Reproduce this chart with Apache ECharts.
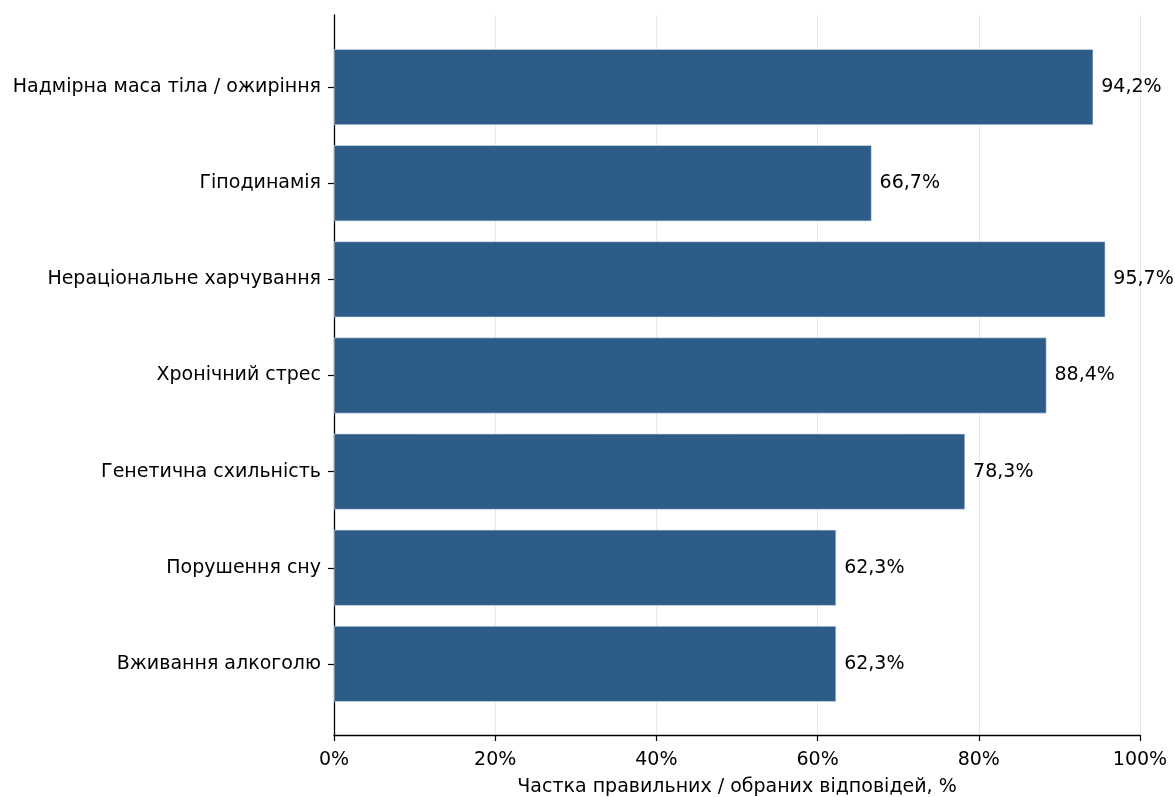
<!DOCTYPE html>
<html>
<head>
<meta charset="utf-8">
<script src="https://cdn.jsdelivr.net/npm/echarts@6/dist/echarts.min.js"></script>
<style>html,body{margin:0;padding:0;background:#fff}#c{width:1175px;height:797px}</style>
</head>
<body>
<div id="c"></div>
<script>
const categories = ["Надмірна маса тіла / ожиріння","Гіподинамія","Нераціональне харчування","Хронічний стрес","Генетична схильність","Порушення сну","Вживання алкоголю"];
const values = [94.2, 66.7, 95.7, 88.4, 78.3, 62.3, 62.3];
const xTicks = [0, 20, 40, 60, 80, 100];
const xTitle = "Частка правильних / обраних відповідей, %";

const font = "DejaVu Sans";
const fs = 19;
const chart = echarts.init(document.getElementById('c'), null, {renderer: 'canvas'});
chart.setOption({
  animation: false,
  backgroundColor: '#ffffff',
  textStyle: {fontFamily: font},
  grid: [
    {left: 334, right: 35, top: 15, bottom: 62, containLabel: false, outerBoundsMode: 'none'},
    {left: 334, right: 35, top: 39, bottom: 85, containLabel: false, outerBoundsMode: 'none'}
  ],
  xAxis: [
    {
      gridIndex: 0, type: 'value', min: xTicks[0], max: xTicks[xTicks.length-1], interval: 20,
      axisLine: {show: true, lineStyle: {color: '#000', width: 1.3}},
      axisTick: {show: true, length: 6, lineStyle: {color: '#000', width: 1.2}},
      axisLabel: {formatter: '{value}%', fontSize: fs, color: '#000', margin: 16, fontFamily: font},
      splitLine: {show: true, lineStyle: {color: '#e8e8e8', width: 1}},
      name: xTitle, nameLocation: 'middle', nameGap: 43,
      nameTextStyle: {fontSize: fs, color: '#000', fontFamily: font}
    },
    {gridIndex: 1, type: 'value', min: 0, max: 100, show: false}
  ],
  yAxis: [
    {
      gridIndex: 0, type: 'value', min: 0, max: 1,
      axisLine: {show: true, lineStyle: {color: '#000', width: 1.3}},
      axisTick: {show: false}, axisLabel: {show: false}, splitLine: {show: false}
    },
    {
      gridIndex: 1, type: 'category', data: categories, inverse: true,
      axisLine: {show: false},
      axisTick: {show: true, alignWithLabel: true, length: 6, lineStyle: {color: '#000', width: 1.2}},
      axisLabel: {fontSize: fs, color: '#000', margin: 13, fontFamily: font},
      splitLine: {show: false}
    }
  ],
  series: [{
    type: 'bar', xAxisIndex: 1, yAxisIndex: 1,
    data: values, barWidth: '79%',
    itemStyle: {color: '#2e5c88', borderColor: '#dbe4ee', borderWidth: 0.6},
    label: {
      show: true, position: 'right', distance: 8, fontSize: fs, color: '#000', fontFamily: font,
      formatter: p => p.value.toFixed(1).replace('.', ',') + '%'
    }
  }]
});
</script>
</body>
</html>
